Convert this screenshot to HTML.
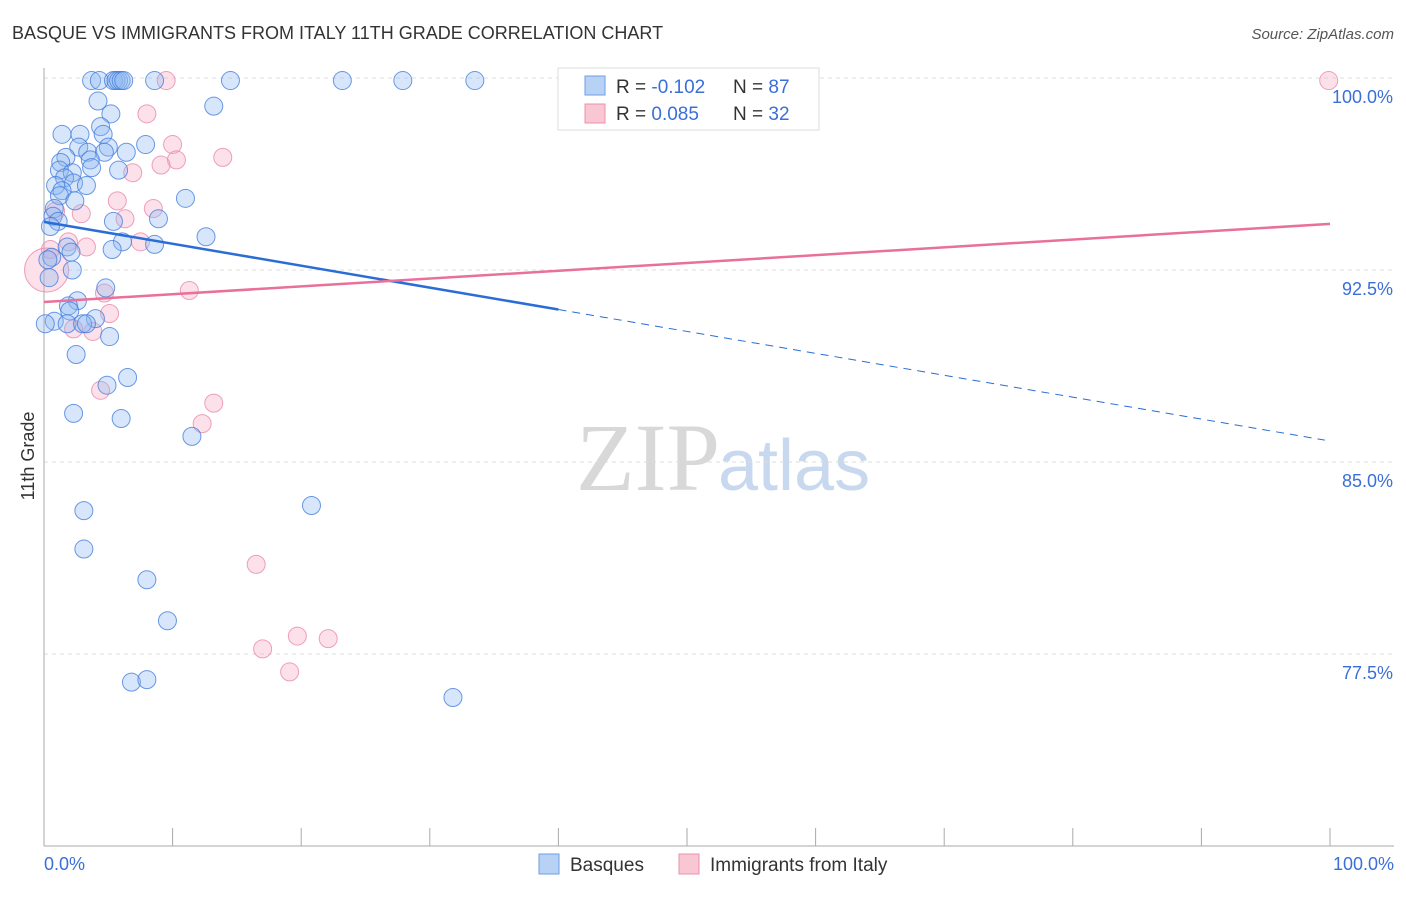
<!DOCTYPE html>
<html><head><meta charset="utf-8"><style>
body{margin:0;background:#fff;font-family:"Liberation Sans",sans-serif}
</style></head><body>
<svg width="1406" height="892" xmlns="http://www.w3.org/2000/svg" id="chart">
<text x="12" y="39" font-size="18" fill="#333">BASQUE VS IMMIGRANTS FROM ITALY 11TH GRADE CORRELATION CHART</text>
<text x="1394" y="39" font-size="15" fill="#555" font-style="italic" text-anchor="end">Source: ZipAtlas.com</text>
<text x="720" y="490" font-size="96" fill="#d8d8d8" font-family="Liberation Serif,serif" text-anchor="end">ZIP</text>
<text x="718" y="490" font-size="72" fill="#c8d8ee">atlas</text>
<text x="34" y="456" font-size="18" fill="#333" transform="rotate(-90 34 456)" text-anchor="middle">11th Grade</text>
<g id="grid"></g><g id="axes"></g><g id="pts"></g><g id="lines"></g>
<g>
<rect x="558" y="68" width="261" height="62" fill="#fff" stroke="#ddd"/>
<rect x="585" y="76" width="20" height="19" fill="#b8d2f5" stroke="#6d9ee6"/>
<rect x="585" y="104" width="20" height="19" fill="#f9c6d4" stroke="#ec90ab"/>
<text x="616" y="93" font-size="19" fill="#333">R = <tspan fill="#3a6fd8">-0.102</tspan><tspan x="733">N = </tspan><tspan fill="#3a6fd8">87</tspan></text>
<text x="616" y="120" font-size="19" fill="#333">R = <tspan fill="#3a6fd8"> 0.085</tspan><tspan x="733">N = </tspan><tspan fill="#3a6fd8">32</tspan></text>
</g>
<g>
<rect x="539" y="854" width="20" height="20" fill="#b8d2f5" stroke="#6d9ee6"/>
<text x="570" y="871" font-size="19" fill="#333">Basques</text>
<rect x="679" y="854" width="20" height="20" fill="#f9c6d4" stroke="#ec90ab"/>
<text x="710" y="871" font-size="19" fill="#333">Immigrants from Italy</text>
</g>
</svg>
<script>
const yTicks=[100,92.5,85,77.5];
const yTickLabels=["100.0%","92.5%","85.0%","77.5%"];
const basqueX=[3.7,4.3,5.4,5.6,5.8,6.0,6.2,8.6,14.5,23.2,27.9,33.5,4.2,13.2,5.2,4.4,1.4,2.8,4.6,7.9,2.7,3.4,5.0,4.7,6.4,1.7,1.3,3.6,3.7,1.2,2.2,5.8,1.6,2.3,3.3,0.9,1.4,1.2,2.4,11.0,0.8,0.7,1.1,5.4,8.9,0.5,12.6,6.1,5.3,8.6,1.8,2.1,0.6,0.3,2.2,0.4,4.8,2.6,1.9,2.0,4.0,0.8,0.1,1.8,3.0,3.3,5.1,2.5,6.5,4.9,2.3,6.0,11.5,20.8,3.1,3.1,8.0,9.6,6.8,8.0,31.8];
const basqueY=[99.9,99.9,99.9,99.9,99.9,99.9,99.9,99.9,99.9,99.9,99.9,99.9,99.1,98.9,98.6,98.1,97.8,97.8,97.8,97.4,97.3,97.1,97.3,97.1,97.1,96.9,96.7,96.8,96.5,96.4,96.3,96.4,96.1,95.9,95.8,95.8,95.6,95.4,95.2,95.3,94.9,94.6,94.4,94.4,94.5,94.2,93.8,93.6,93.3,93.5,93.4,93.2,93.0,92.9,92.5,92.2,91.8,91.3,91.1,90.9,90.6,90.5,90.4,90.4,90.4,90.4,89.9,89.2,88.3,88.0,86.9,86.7,86.0,83.3,83.1,81.6,80.4,78.8,76.4,76.5,75.8];
const italyX=[9.5,99.9,8.0,10.0,13.9,10.3,9.1,6.9,5.7,8.5,2.9,6.3,0.9,0.5,7.5,3.3,1.9,4.7,11.3,5.1,2.3,3.8,4.4,13.2,12.3,16.5,19.7,22.1,17.0,19.1,0.2];
const italyY=[99.9,99.9,98.6,97.4,96.9,96.8,96.6,96.3,95.2,94.9,94.7,94.5,94.8,93.3,93.6,93.4,93.6,91.6,91.7,90.8,90.2,90.1,87.8,87.3,86.5,81.0,78.2,78.1,77.7,76.8,92.5];
const basqueFit=[94.38,85.82];
const italyFit=[91.25,94.3];
const NS="http://www.w3.org/2000/svg";
const X=v=>44+v*12.86, Y=v=>78+(100-v)/7.5*192;
function mk(t,a,p){const e=document.createElementNS(NS,t);for(const k in a)e.setAttribute(k,a[k]);document.getElementById(p).appendChild(e);return e;}
yTicks.forEach((t,i)=>{
 const g=mk('line',{x1:44,x2:1394,y1:Y(t),y2:Y(t),stroke:'#ddd','stroke-dasharray':'4 4'},'grid');
 
 
 const l=mk('text',{x:1393,y:Y(t)+25,'font-size':18,fill:'#3a6fd8','text-anchor':'end'},'grid');
 l.textContent=yTickLabels[i];
 
 
});
const ax=mk('line',{x1:44,x2:44,y1:68,y2:846,stroke:'#aaa'},'axes');


const bx=mk('line',{x1:44,x2:1394,y1:846,y2:846,stroke:'#aaa'},'axes');


for(let i=0;i<=10;i++){const t=mk('line',{x1:X(i*10),x2:X(i*10),y1:828,y2:846,stroke:'#aaa'},'axes');
 
 }
[["0.0%",44,'start'],["100.0%",1394,'end']].forEach(a=>{const t=mk('text',{x:a[1],y:870,'font-size':18,fill:'#3a6fd8','text-anchor':a[2]},'axes');t.textContent=a[0];
 
 });
italyX.forEach((x,i)=>{const c=mk('circle',{cx:X(x),cy:Y(italyY[i]),r:i==italyX.length-1?22:9,fill:'rgba(246,170,195,0.35)',stroke:'rgba(234,130,165,0.75)'},'pts');
 
 });
basqueX.forEach((x,i)=>{const c=mk('circle',{cx:X(x),cy:Y(basqueY[i]),r:9,fill:'rgba(140,182,240,0.35)',stroke:'rgba(60,120,220,0.75)'},'pts');
 
 });
const by=x=>basqueFit[0]+(basqueFit[1]-basqueFit[0])*x/100;
const l1=mk('line',{x1:X(0),y1:Y(by(0)),x2:X(40),y2:Y(by(40)),stroke:'#2a6dd6','stroke-width':2.5},'lines');


const l2=mk('line',{x1:X(40),y1:Y(by(40)),x2:X(99.6),y2:Y(by(99.6)),stroke:'#2a6dd6','stroke-width':1,'stroke-dasharray':'8 6'},'lines');


const l3=mk('line',{x1:X(0),y1:Y(italyFit[0]),x2:X(100),y2:Y(italyFit[1]),stroke:'#e8709a','stroke-width':2.5},'lines');


</script>
</body></html>
